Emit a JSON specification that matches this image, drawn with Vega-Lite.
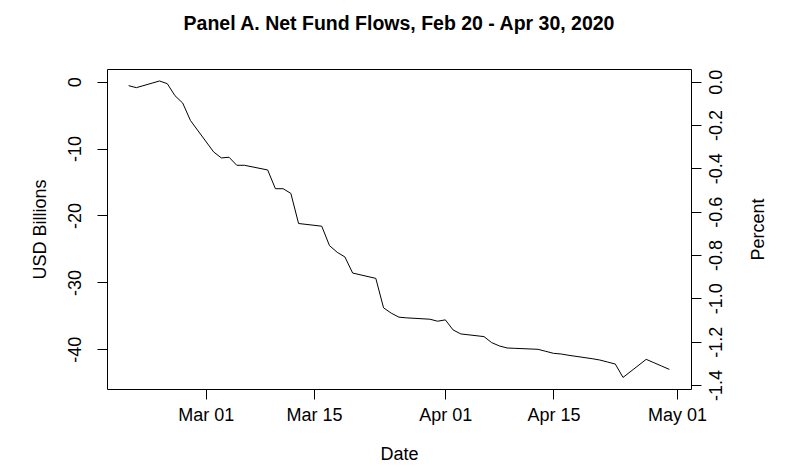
{
  "$schema": "https://vega.github.io/schema/vega-lite/v6.json",
  "width": 584,
  "height": 320,
  "autosize": {"type": "none"},
  "padding": {"left": 107, "top": 69, "right": 95, "bottom": 85},
  "background": "white",
  "title": {
    "text": "Panel A. Net Fund Flows, Feb 20 - Apr 30, 2020",
    "font": "Liberation Sans",
    "fontSize": 19.5,
    "fontWeight": "bold",
    "color": "black",
    "anchor": "middle",
    "frame": "group",
    "baseline": "alphabetic",
    "offset": 20
  },
  "data": {
    "values": [
      {"date": "2020-02-20", "usd": -0.6},
      {"date": "2020-02-21", "usd": -0.9},
      {"date": "2020-02-24", "usd": 0.1},
      {"date": "2020-02-25", "usd": -0.3},
      {"date": "2020-02-26", "usd": -2.1},
      {"date": "2020-02-27", "usd": -3.2},
      {"date": "2020-02-28", "usd": -5.8},
      {"date": "2020-03-02", "usd": -10.5},
      {"date": "2020-03-03", "usd": -11.4},
      {"date": "2020-03-04", "usd": -11.3},
      {"date": "2020-03-05", "usd": -12.5},
      {"date": "2020-03-06", "usd": -12.5},
      {"date": "2020-03-09", "usd": -13.2},
      {"date": "2020-03-10", "usd": -16.0},
      {"date": "2020-03-11", "usd": -16.0},
      {"date": "2020-03-12", "usd": -16.7},
      {"date": "2020-03-13", "usd": -21.2},
      {"date": "2020-03-16", "usd": -21.6},
      {"date": "2020-03-17", "usd": -24.5},
      {"date": "2020-03-18", "usd": -25.5},
      {"date": "2020-03-19", "usd": -26.2},
      {"date": "2020-03-20", "usd": -28.6},
      {"date": "2020-03-23", "usd": -29.4},
      {"date": "2020-03-24", "usd": -33.8},
      {"date": "2020-03-25", "usd": -34.6},
      {"date": "2020-03-26", "usd": -35.2},
      {"date": "2020-03-27", "usd": -35.3},
      {"date": "2020-03-30", "usd": -35.5},
      {"date": "2020-03-31", "usd": -35.8},
      {"date": "2020-04-01", "usd": -35.6},
      {"date": "2020-04-02", "usd": -37.1},
      {"date": "2020-04-03", "usd": -37.7},
      {"date": "2020-04-06", "usd": -38.1},
      {"date": "2020-04-07", "usd": -39.0},
      {"date": "2020-04-08", "usd": -39.5},
      {"date": "2020-04-09", "usd": -39.8},
      {"date": "2020-04-10", "usd": -39.85},
      {"date": "2020-04-13", "usd": -40.0},
      {"date": "2020-04-14", "usd": -40.3},
      {"date": "2020-04-15", "usd": -40.6},
      {"date": "2020-04-16", "usd": -40.7},
      {"date": "2020-04-17", "usd": -40.9},
      {"date": "2020-04-20", "usd": -41.4},
      {"date": "2020-04-21", "usd": -41.6},
      {"date": "2020-04-22", "usd": -41.9},
      {"date": "2020-04-23", "usd": -42.2},
      {"date": "2020-04-24", "usd": -44.2},
      {"date": "2020-04-27", "usd": -41.5},
      {"date": "2020-04-28", "usd": -42.0},
      {"date": "2020-04-29", "usd": -42.5},
      {"date": "2020-04-30", "usd": -43.0}
    ]
  },
  "encoding": {
    "x": {
      "field": "date",
      "type": "temporal",
      "scale": {
        "type": "utc",
        "domain": [
          {"year": 2020, "month": 2, "date": 17, "hours": 4, "minutes": 48, "utc": true},
          {"year": 2020, "month": 5, "date": 2, "hours": 19, "minutes": 12, "utc": true}
        ]
      },
      "axis": {
        "title": "Date",
        "values": [
          {"year": 2020, "month": 3, "date": 1, "utc": true},
          {"year": 2020, "month": 3, "date": 15, "utc": true},
          {"year": 2020, "month": 4, "date": 1, "utc": true},
          {"year": 2020, "month": 4, "date": 15, "utc": true},
          {"year": 2020, "month": 5, "date": 1, "utc": true}
        ],
        "labelExpr": "utcFormat(datum.value, '%b %d')",
        "labelBaseline": "top",
        "labelPadding": 7,
        "titlePadding": 21
      }
    }
  },
  "layer": [
    {
      "mark": {"type": "line", "color": "black", "strokeWidth": 1, "clip": true},
      "encoding": {
        "y": {
          "field": "usd",
          "type": "quantitative",
          "scale": {"domain": [-45.93, 1.89], "nice": false, "zero": false},
          "axis": {
            "orient": "left",
            "title": "USD Billions",
            "values": [0, -10, -20, -30, -40],
            "labelExpr": "datum.value < 0 ? '-' + format(-datum.value, 'd') : format(datum.value, 'd')",
            "labelAngle": 270,
            "labelAlign": "center",
            "labelBaseline": "alphabetic",
            "labelPadding": 17,
            "titlePadding": 17
          }
        }
      }
    },
    {
      "mark": {"type": "point", "opacity": 0, "clip": true},
      "encoding": {
        "y": {
          "field": "usd",
          "type": "quantitative",
          "scale": {"domain": [-1.4185, 0.0584], "nice": false, "zero": false},
          "axis": {
            "orient": "right",
            "title": "Percent",
            "values": [0, -0.2, -0.4, -0.6, -0.8, -1.0, -1.2, -1.4],
            "labelExpr": "datum.value < 0 ? '-' + format(-datum.value, '.1f') : format(datum.value, '.1f')",
            "labelAngle": 270,
            "labelAlign": "center",
            "labelBaseline": "top",
            "labelPadding": 6,
            "titleAngle": 270,
            "titleBaseline": "top",
            "titlePadding": 24
          }
        }
      }
    }
  ],
  "resolve": {"scale": {"y": "independent"}},
  "config": {
    "view": {"stroke": "black", "strokeWidth": 1},
    "axis": {
      "domain": false,
      "grid": false,
      "ticks": true,
      "tickColor": "black",
      "tickSize": 10,
      "tickWidth": 1,
      "labelFont": "Liberation Sans",
      "labelFontSize": 18,
      "labelColor": "black",
      "labelFlush": false,
      "labelOverlap": false,
      "titleFont": "Liberation Sans",
      "titleFontSize": 18,
      "titleFontWeight": "normal",
      "titleColor": "black"
    }
  }
}
